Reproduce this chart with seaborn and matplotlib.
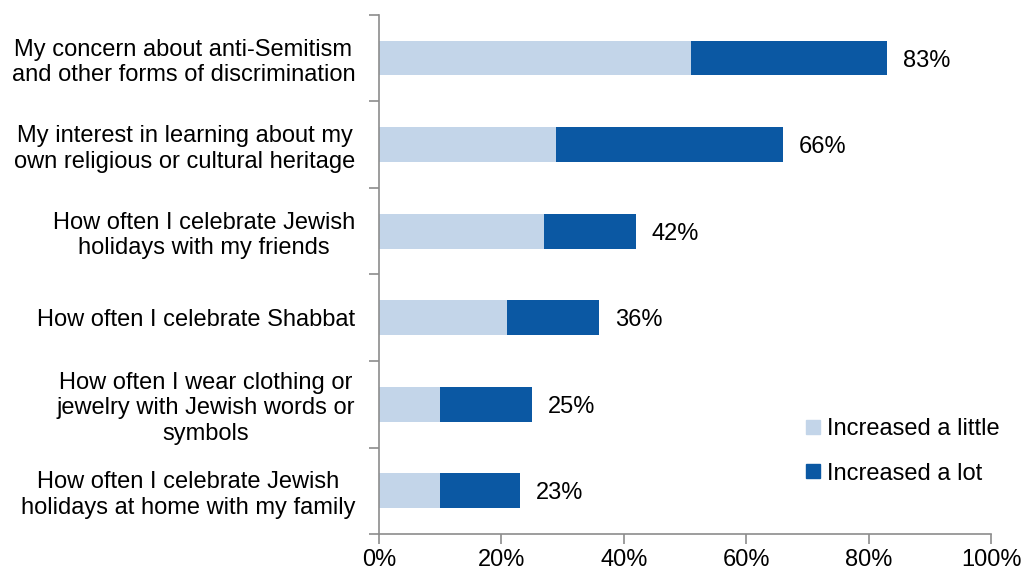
import matplotlib
matplotlib.use("Agg")
import matplotlib.pyplot as plt
import seaborn as sns
import pandas as pd
import numpy as np
from matplotlib.ticker import FixedLocator, PercentFormatter
from matplotlib.lines import Line2D

categories = [
    "My concern about anti-Semitism\nand other forms of discrimination",
    "My interest in learning about my\nown religious or cultural heritage",
    "How often I celebrate Jewish\nholidays with my friends",
    "How often I celebrate Shabbat",
    "How often I wear clothing or\njewelry with Jewish words or\nsymbols",
    "How often I celebrate Jewish\nholidays at home with my family",
]
increased_little = [51, 29, 27, 21, 10, 10]
increased_lot = [32, 37, 15, 15, 15, 13]
totals = [a + b for a, b in zip(increased_little, increased_lot)]
total_labels = ["83%", "66%", "42%", "36%", "25%", "23%"]

light = "#C3D5E9"
dark = "#0B58A3"
gray = "#8C8C8C"

sns.set_style("white")
plt.rcParams["font.family"] = ["Liberation Sans", "DejaVu Sans"]
plt.rcParams["text.color"] = "black"
plt.rcParams["xtick.color"] = "black"
plt.rcParams["ytick.color"] = "black"

df = pd.DataFrame({"cat": categories, "little": increased_little,
                   "total": totals})

fig = plt.figure(figsize=(10.24, 5.73), dpi=100)
ax = fig.add_axes([0.370, 0.068, 0.598, 0.906])

sns.barplot(data=df, x="total", y="cat", color=dark, width=0.4,
            saturation=1, ax=ax, linewidth=0)
sns.barplot(data=df, x="little", y="cat", color=light, width=0.4,
            saturation=1, ax=ax, linewidth=0)

for i, (t, lab) in enumerate(zip(totals, total_labels)):
    ax.text(t + 2.6, i + 0.03, lab, va="center", ha="left", fontsize=17,
            color="black")

ax.set_xlim(0, 100)
ax.set_ylim(5.5, -0.5)
ax.set_xlabel("")
ax.set_ylabel("")
ax.xaxis.set_major_locator(FixedLocator([0, 20, 40, 60, 80, 100]))
ax.xaxis.set_major_formatter(PercentFormatter(decimals=0))
ax.tick_params(axis="x", direction="out", length=7, color=gray, width=1.2,
               labelsize=17, pad=4, bottom=True, labelcolor="black")
ax.set_yticks(range(len(categories)))
ax.set_yticklabels(categories, fontsize=17, multialignment="center",
                   color="black")
ax.tick_params(axis="y", which="major", length=0, pad=17)
ax.yaxis.set_minor_locator(FixedLocator(np.arange(-0.5, 6.0, 1.0)))
ax.tick_params(axis="y", which="minor", direction="out", length=7,
               color=gray, width=1.2, left=True)

for s in ["top", "right"]:
    ax.spines[s].set_visible(False)
for s in ["left", "bottom"]:
    ax.spines[s].set_color(gray)
    ax.spines[s].set_linewidth(1.2)

handles = [
    Line2D([], [], marker="s", linestyle="none", markersize=10,
           markerfacecolor=light, markeredgecolor=light),
    Line2D([], [], marker="s", linestyle="none", markersize=10,
           markerfacecolor=dark, markeredgecolor=dark),
]
ax.legend(handles, ["Increased a little", "Increased a lot"], loc="lower right",
          bbox_to_anchor=(1.048, 0.054), frameon=False, fontsize=17,
          handletextpad=0.1, labelspacing=0.95, handlelength=1.0)

fig.savefig("out.png", dpi=100)
